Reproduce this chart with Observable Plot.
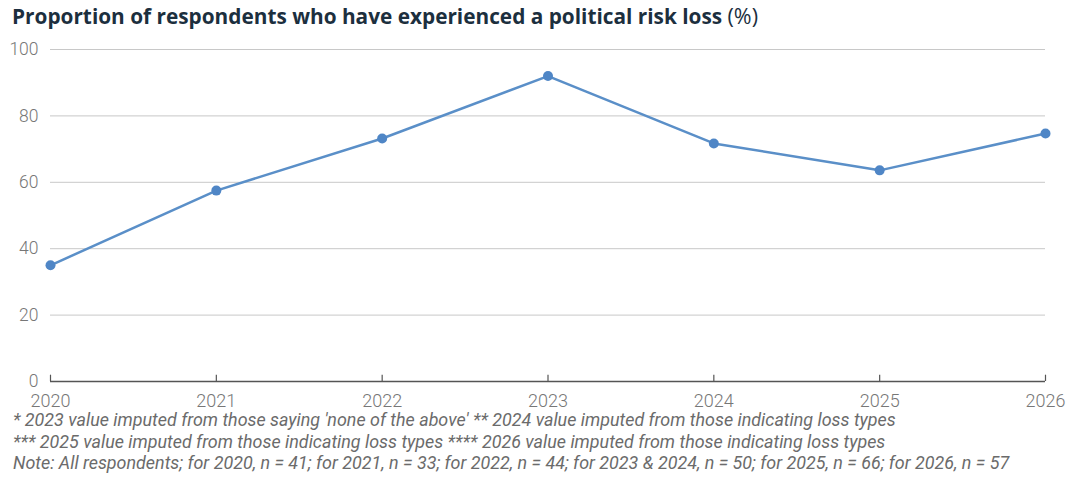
<!DOCTYPE html>
<html>
<head>
<meta charset="utf-8">
<script src="https://cdn.jsdelivr.net/npm/d3@7"></script>
<script src="https://cdn.jsdelivr.net/npm/@observablehq/plot@0.6"></script>
<style>
  html, body { margin: 0; padding: 0; background: #fff; }
  body { width: 1083px; height: 477px; overflow: hidden; font-family: Roboto, "Noto Sans", sans-serif; }
  #title { height: 34px; padding-left: 12px; font-family: "Open Sans", sans-serif; font-size: 20.8px; font-weight: 700; color: #1c2f3e; line-height: 32px; white-space: nowrap; }
  #title span { font-weight: 400; font-size: 21.5px; }
  #notes { padding-left: 13px; font-size: 17.9px; font-style: italic; color: #6b6b6b; line-height: 21.5px; white-space: nowrap; margin-top: -5px; position: relative; }
  svg { display: block; }
</style>
</head>
<body>
<div id="title">Proportion of respondents who have experienced a political risk loss <span>(%)</span></div>
<div id="chart"></div>
<div id="notes"></div>
<script>
const years = [2020, 2021, 2022, 2023, 2024, 2025, 2026];
const values = [35, 57.5, 73.2, 92, 71.7, 63.6, 74.7];
const yTicks = [0, 20, 40, 60, 80, 100];
const notes = [
  "* 2023 value imputed from those saying 'none of the above' ** 2024 value imputed from those indicating loss types",
  "*** 2025 value imputed from those indicating loss types **** 2026 value imputed from those indicating loss types",
  "Note: All respondents; for 2020, n = 41; for 2021, n = 33; for 2022, n = 44; for 2023 & 2024, n = 50; for 2025, n = 66; for 2026, n = 57"
];

const data = years.map((y, i) => ({year: y, value: values[i]}));

const chart = Plot.plot({
  width: 1083,
  height: 380,
  marginTop: 15,
  marginBottom: 33,
  marginLeft: 50,
  marginRight: 38,
  style: {fontFamily: "Roboto, sans-serif", fontSize: "17px", color: "#777"},
  x: {domain: [2020, 2026], label: null},
  y: {domain: [0, 100], label: null},
  marks: [
    Plot.gridY(yTicks.filter(d => d > 0), {stroke: "#c8c8c8", strokeOpacity: 1, strokeWidth: 1}),
    Plot.axisY(yTicks, {tickSize: 0, tickPadding: 12, fontSize: 17.5, fill: "#777", fontWeight: 300, label: null}),
    Plot.axisX(years, {tickSize: 0, tickPadding: 12.5, tickFormat: d => String(d), fontSize: 18, fill: "#777", fontWeight: 300, label: null}),
    Plot.ruleY([0], {stroke: "#555", strokeWidth: 1.5}),
    Plot.ruleX(years, {x: d => d, y1: 0, y2: 1.9, stroke: "#555", strokeWidth: 1.2}),
    Plot.line(data, {x: "year", y: "value", stroke: "#5a8fc8", strokeWidth: 2.5}),
    Plot.dot(data, {x: "year", y: "value", r: 5, fill: "#4f86c6", stroke: "none"})
  ]
});
document.getElementById("chart").appendChild(chart);
document.getElementById("notes").innerHTML = notes.map(n => `<div>${n.replace(/&/g, "&amp;")}</div>`).join("");
</script>
</body>
</html>
